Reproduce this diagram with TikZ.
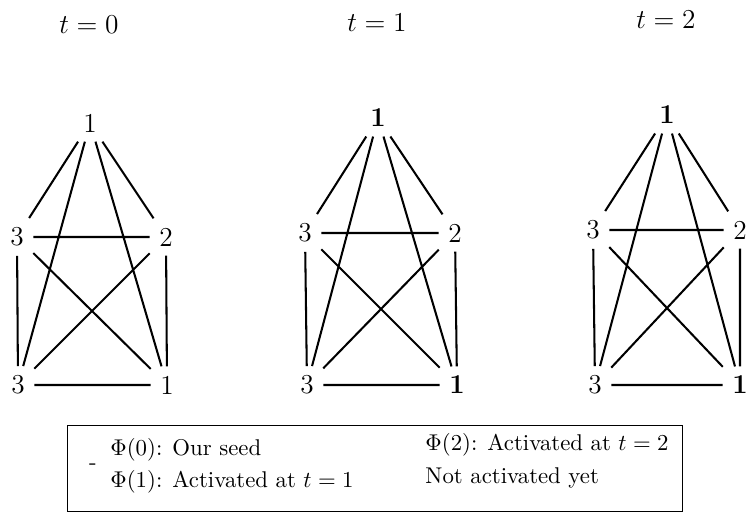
\documentclass[tikz,border=0pt]{standalone}
\usetikzlibrary{positioning}
\begin{document}
\begin{tikzpicture}[
    x=0.01542cm, y=-0.01542cm,
    vert/.style={inner sep=4pt, font=\large},
    tlabel/.style={font=\large},
    edge/.style={line width=0.9pt},
    legtext/.style={anchor=west, inner sep=0pt}
]
\useasboundingbox (0,0) rectangle (749,513);

% time steps
\node[tlabel] (t0) at (89,25) {$t=0$};
\node[tlabel] (t1) at (377,23) {$t=1$};
\node[tlabel] (t2) at (666,20) {$t=2$};

% graph at t=0
\node[vert] (a1) at (90,123) {1};
\node[vert] (a2) at (17,237) {3};
\node[vert] (a3) at (166,237) {2};
\node[vert] (a4) at (18,385) {3};
\node[vert] (a5) at (167,385) {1};
\draw[edge] (a1) -- (a2) (a1) -- (a3) (a1) -- (a4) (a1) -- (a5)
            (a2) -- (a3) (a2) -- (a4) (a2) -- (a5)
            (a3) -- (a4) (a3) -- (a5) (a4) -- (a5);

% graph at t=1
\node[vert] (b1) at (378,118) {\textbf{1}};
\node[vert] (b2) at (305,233) {3};
\node[vert] (b3) at (455,233) {2};
\node[vert] (b4) at (307,385) {3};
\node[vert] (b5) at (457,385) {\textbf{1}};
\draw[edge] (b1) -- (b2) (b1) -- (b3) (b1) -- (b4) (b1) -- (b5)
            (b2) -- (b3) (b2) -- (b4) (b2) -- (b5)
            (b3) -- (b4) (b3) -- (b5) (b4) -- (b5);

% graph at t=2
\node[vert] (c1) at (667,115) {\textbf{1}};
\node[vert] (c2) at (593,230) {3};
\node[vert] (c3) at (740,230) {2};
\node[vert] (c4) at (595,385) {3};
\node[vert] (c5) at (740,385) {\textbf{1}};
\draw[edge] (c1) -- (c2) (c1) -- (c3) (c1) -- (c4) (c1) -- (c5)
            (c2) -- (c3) (c2) -- (c4) (c2) -- (c5)
            (c3) -- (c4) (c3) -- (c5) (c4) -- (c5);

% legend
\draw (67,425) rectangle (682,511);
\node (mark) at (93,467) {-};
\node[legtext] (l0) at (110,450) {$\Phi(0)$: Our seed};
\node[legtext] (l1) at (110,482) {$\Phi(1)$: Activated at $t=1$};
\node[legtext] (l2) at (425,445) {$\Phi(2)$: Activated at $t=2$};
\node[legtext] (l3) at (425,478) {Not activated yet};
\end{tikzpicture}
\end{document}
